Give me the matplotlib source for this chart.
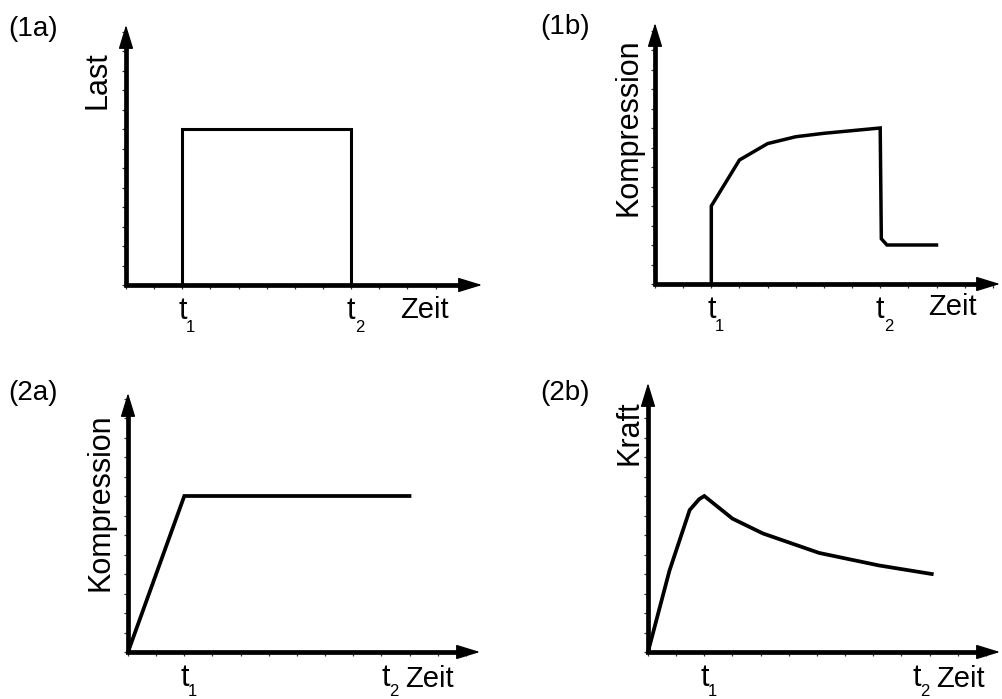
import matplotlib
matplotlib.use("Agg")
import matplotlib.pyplot as plt
from matplotlib.ticker import MultipleLocator

plt.rcParams['font.family'] = ['Liberation Sans', 'DejaVu Sans']

# ---------------- data (time in units of t1, value normalised) ----------------
load_t = [1, 1, 4, 4]
load_v = [0, 1, 1, 0]

comp1_t = [1, 1, 1.5, 2, 2.5, 3, 4, 4.02, 4.12, 5]
comp1_v = [0, 0.5, 0.795, 0.90, 0.944, 0.966, 1.0, 0.29, 0.25, 0.25]

comp2_t = [0, 1, 5]
comp2_v = [0, 1, 1]

force_t = [0, 0.38, 0.74, 0.91, 1.0, 1.5, 2.04, 3.04, 4.1, 5.04]
force_v = [0, 0.52, 0.91, 0.98, 1.0, 0.855, 0.76, 0.635, 0.555, 0.50]

panel_labels = ['(1a)', '(1b)', '(2a)', '(2b)']
y_labels = ['Last', 'Kompression', 'Kompression', 'Kraft']
x_label = 'Zeit'
t1_pos = [1, 1, 1, 1]
t2_pos = [4, 4, 4.57, 4.77]

# ---------------- layout ----------------
W, H = 1002, 699
XU, YU = 56.3, 156.0  # pixels per data unit

fig = plt.figure(figsize=(W / 100, H / 100), dpi=100)


def fx(x):
    return x / W


def fy(y):
    return 1 - y / H


panels = [
    dict(origin=(126, 285), tip=(482, 25), t=load_t, v=load_v, lw=2.2,
         plabel=(8, 36), ylab=(106, 80), zeit=(400, 318), sub=46.5),
    dict(origin=(655, 284), tip=(1000, 23), t=comp1_t, v=comp1_v, lw=2.5,
         plabel=(540, 34), ylab=(636, 127), zeit=(928, 315), sub=46.5),
    dict(origin=(128, 652), tip=(480, 393), t=comp2_t, v=comp2_v, lw=2.7,
         plabel=(8, 400), ylab=(108, 502), zeit=(405, 687), sub=43.5),
    dict(origin=(648, 652), tip=(1000, 383), t=force_t, v=force_v, lw=2.7,
         plabel=(540, 400), ylab=(638, 433), zeit=(936, 687), sub=43.5),
]

AX_LW = 3.4
for i, p in enumerate(panels):
    ox, oy = p['origin']
    tx, ty = p['tip']
    ax = fig.add_axes([fx(ox), fy(oy), (tx - ox) / W, (oy - ty) / H])
    xmax = (tx - ox) / XU
    ymax = (oy - ty) / YU
    ax.set_xlim(0, xmax)
    ax.set_ylim(0, ymax)
    for s in ax.spines.values():
        s.set_visible(False)
    ax.patch.set_alpha(0)
    ax.xaxis.set_major_locator(MultipleLocator(0.5))
    ax.yaxis.set_major_locator(MultipleLocator(0.125))
    ax.tick_params(direction='out', length=2.6, width=0.9, color='#333333',
                   labelbottom=False, labelleft=False)

    # axes L shape
    ax.plot([0, 0, xmax - 0.2], [ymax - 0.07, 0, 0], color='black', lw=AX_LW,
            solid_joinstyle='miter', solid_capstyle='butt', clip_on=False, zorder=3)
    # arrow heads
    for xy, xyt in [((1, 0), (0.9, 0)), ((0, 1), (0, 0.9))]:
        ax.annotate('', xy=xy, xytext=xyt, xycoords='axes fraction',
                    arrowprops=dict(arrowstyle='-|>,head_length=15,head_width=4.6',
                                    mutation_scale=1, lw=1, color='black',
                                    shrinkA=0, shrinkB=0),
                    annotation_clip=False, zorder=4)

    # curve
    ax.plot(p['t'], p['v'], color='black', lw=p['lw'], clip_on=False,
            solid_joinstyle='miter', zorder=2)

    # t labels
    for tp, sub in [(t1_pos[i], '1'), (t2_pos[i], '2')]:
        ax.annotate('t', xy=(tp, 0), xycoords=('data', 'axes fraction'),
                    xytext=(0, -34 * 0.72), textcoords='offset points',
                    ha='center', va='baseline', fontsize=22, annotation_clip=False)
        ax.annotate(sub, xy=(tp, 0), xycoords=('data', 'axes fraction'),
                    xytext=(3.5 * 0.72, -p['sub'] * 0.72), textcoords='offset points',
                    ha='left', va='baseline', fontsize=12, annotation_clip=False)

    # texts in figure pixel space
    fig.text(fx(p['plabel'][0]), fy(p['plabel'][1]), panel_labels[i],
             fontsize=20, ha='left', va='baseline')
    fig.text(fx(p['ylab'][0]), fy(p['ylab'][1]), y_labels[i], fontsize=22,
             rotation=90, rotation_mode='anchor', ha='center', va='baseline')
    fig.text(fx(p['zeit'][0]), fy(p['zeit'][1]), x_label, fontsize=21,
             ha='left', va='baseline')

fig.savefig('out.png', dpi=100)
